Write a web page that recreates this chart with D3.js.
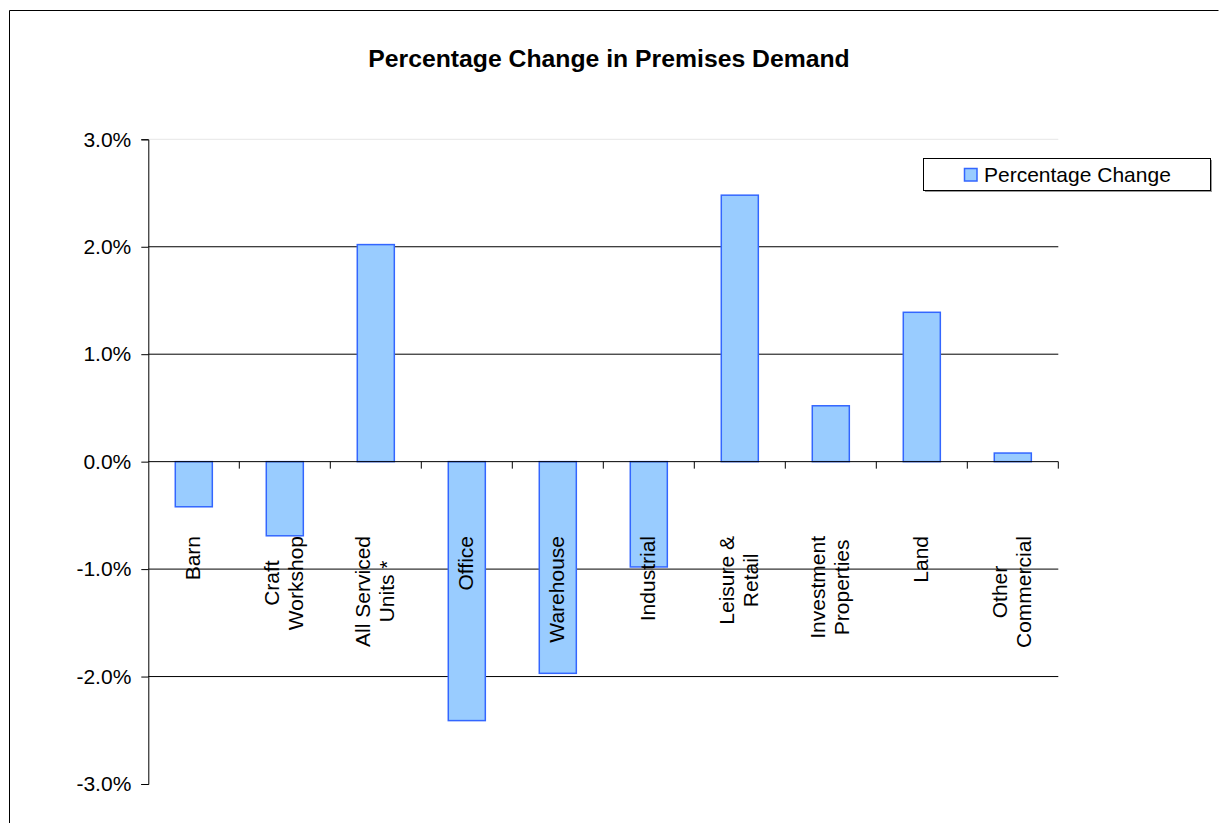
<!DOCTYPE html>
<html>
<head>
<meta charset="utf-8">
<script src="https://cdn.jsdelivr.net/npm/d3@7"></script>
<style>
  html, body { margin: 0; padding: 0; background: #fff; }
  svg { display: block; font-family: "Liberation Sans", Arial, sans-serif; }
</style>
</head>
<body>
<svg id="chart" width="1228" height="823"></svg>
<script>
// Premises demand: percentage change by category
const categories = [
  ["Barn"],
  ["Craft", "Workshop"],
  ["All Serviced", "Units *"],
  ["Office"],
  ["Warehouse"],
  ["Industrial"],
  ["Leisure &", "Retail"],
  ["Investment", "Properties"],
  ["Land"],
  ["Other", "Commercial"]
];
const percentageChange = [-0.0042, -0.0069, 0.0202, -0.0241, -0.0197, -0.0098, 0.0248, 0.0052, 0.0139, 0.0008];
const yTicks = [0.03, 0.02, 0.01, 0, -0.01, -0.02, -0.03];
const gridValues = [0.03, 0.02, 0.01, -0.01, -0.02];
const seriesName = "Percentage Change";
const chartTitle = "Percentage Change in Premises Demand";

const svg = d3.select("#chart");

// outer chart frame (top and left edges)
svg.append("path")
  .attr("d", "M9.5,840 V10.5 H1218.5")
  .attr("fill", "none").attr("stroke", "#000").attr("stroke-width", 1);

const plot = { left: 148.3, right: 1058.3, top: 139.3, bottom: 784 };

const x = d3.scaleBand()
  .domain(d3.range(categories.length))
  .range([plot.left, plot.right])
  .paddingInner(0.593).paddingOuter(0.2965);

const xBand = d3.scaleBand()
  .domain(d3.range(categories.length))
  .range([plot.left, plot.right]);

const y = d3.scaleLinear()
  .domain([-0.03, 0.03])
  .range([plot.bottom, plot.top]);

const pct = v => d3.format(".1%")(v).replace("\u2212", "-");

// title
svg.append("text")
  .attr("x", 609).attr("y", 67)
  .attr("text-anchor", "middle")
  .attr("font-size", 24.75).attr("font-weight", "bold")
  .text(chartTitle);

// horizontal gridlines
svg.append("g")
  .selectAll("line")
  .data(gridValues)
  .join("line")
  .attr("x1", plot.left).attr("x2", plot.right)
  .attr("y1", d => y(d)).attr("y2", d => y(d))
  .attr("stroke", d => d === 0.03 ? "#e6e6e6" : "#000")
  .attr("stroke-width", 1);

// bars
svg.append("g")
  .selectAll("rect")
  .data(percentageChange)
  .join("rect")
  .attr("x", (d, i) => x(i))
  .attr("width", x.bandwidth())
  .attr("y", d => y(Math.max(0, d)))
  .attr("height", d => Math.abs(y(d) - y(0)))
  .attr("fill", "#99CCFF")
  .attr("stroke", "#3366FF")
  .attr("stroke-width", 1.5);

// y axis
const yAxis = svg.append("g")
  .attr("transform", `translate(${plot.left},0)`)
  .call(d3.axisLeft(y).tickValues(yTicks).tickFormat(pct).tickSize(7).tickPadding(10));
yAxis.select(".domain").attr("stroke", "#000");
yAxis.selectAll(".tick line").attr("stroke", "#000");
yAxis.selectAll(".tick text")
  .attr("font-size", 21).attr("font-family", "Liberation Sans, Arial, sans-serif").attr("fill", "#000");

// x axis along zero with ticks between categories
const xAxisG = svg.append("g");
xAxisG.append("line")
  .attr("x1", plot.left).attr("x2", plot.right)
  .attr("y1", y(0)).attr("y2", y(0))
  .attr("stroke", "#000");
const boundaries = d3.range(1, categories.length + 1).map(i => i === categories.length ? plot.right : xBand(i));
xAxisG.selectAll("line.tick")
  .data(boundaries)
  .join("line")
  .attr("class", "tick")
  .attr("x1", d => d).attr("x2", d => d)
  .attr("y1", y(0)).attr("y2", y(0) + 7)
  .attr("stroke", "#000");

// rotated category labels
const labelTop = 536;
const lineH = 24;
const labels = svg.append("g")
  .selectAll("g")
  .data(categories)
  .join("g");
labels.each(function(lines, i) {
  const g = d3.select(this);
  const t = g.append("text")
    .attr("text-anchor", "middle")
    .attr("font-size", 21)
    .attr("fill", "#000");
  lines.forEach((ln, j) => {
    t.append("tspan")
      .attr("x", 0)
      .attr("y", (j - (lines.length - 1) / 2) * lineH + 7.5)
      .text(ln);
  });
  let maxLen = 0;
  t.selectAll("tspan").each(function() { maxLen = Math.max(maxLen, this.getComputedTextLength()); });
  const cx = xBand(i) + xBand.bandwidth() / 2 - 1;
  g.attr("transform", `translate(${cx},${labelTop + maxLen / 2}) rotate(-90)`);
});

// legend
const legend = svg.append("g");
legend.append("rect")
  .attr("x", 925).attr("y", 160).attr("width", 287).attr("height", 32)
  .attr("fill", "#999");
legend.append("rect")
  .attr("x", 923.5).attr("y", 158.5).attr("width", 287).attr("height", 32)
  .attr("fill", "#fff").attr("stroke", "#000");
legend.append("rect")
  .attr("x", 964.5).attr("y", 168.5).attr("width", 12.5).attr("height", 12.5)
  .attr("fill", "#99CCFF").attr("stroke", "#3366FF").attr("stroke-width", 1.5);
legend.append("text")
  .attr("x", 984).attr("y", 181.7)
  .attr("font-size", 21)
  .text(seriesName);
</script>
</body>
</html>
